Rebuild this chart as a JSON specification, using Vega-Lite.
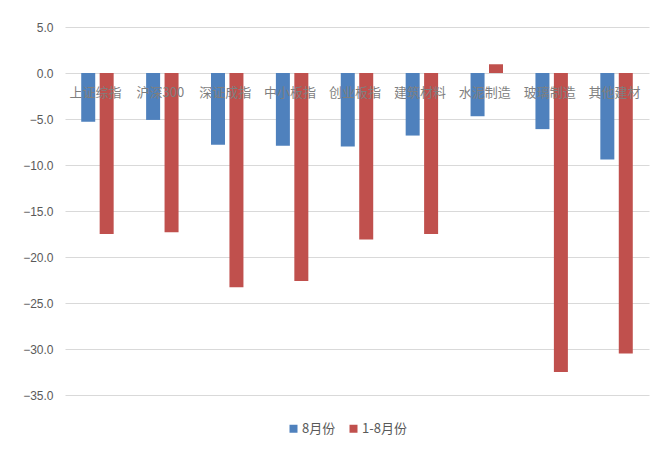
{
  "$schema": "https://vega.github.io/schema/vega-lite/v6.json",
  "width": 584,
  "height": 368,
  "autosize": "none",
  "padding": {"left": 65, "top": 27, "right": 11, "bottom": 60},
  "background": "white",
  "config": {
    "view": {"stroke": null},
    "font": "Noto Sans CJK SC"
  },
  "data": {
    "values": [
      {"cat": "上证综指", "series": "8月份", "value": -5.3},
      {"cat": "上证综指", "series": "1-8月份", "value": -17.5},
      {"cat": "沪深300", "series": "8月份", "value": -5.1},
      {"cat": "沪深300", "series": "1-8月份", "value": -17.3},
      {"cat": "深证成指", "series": "8月份", "value": -7.8},
      {"cat": "深证成指", "series": "1-8月份", "value": -23.3},
      {"cat": "中小板指", "series": "8月份", "value": -7.9},
      {"cat": "中小板指", "series": "1-8月份", "value": -22.6},
      {"cat": "创业板指", "series": "8月份", "value": -8.0},
      {"cat": "创业板指", "series": "1-8月份", "value": -18.1},
      {"cat": "建筑材料", "series": "8月份", "value": -6.8},
      {"cat": "建筑材料", "series": "1-8月份", "value": -17.5},
      {"cat": "水泥制造", "series": "8月份", "value": -4.7},
      {"cat": "水泥制造", "series": "1-8月份", "value": 0.95},
      {"cat": "玻璃制造", "series": "8月份", "value": -6.1},
      {"cat": "玻璃制造", "series": "1-8月份", "value": -32.5},
      {"cat": "其他建材", "series": "8月份", "value": -9.4},
      {"cat": "其他建材", "series": "1-8月份", "value": -30.5}
    ]
  },
  "encoding": {
    "x": {
      "field": "cat",
      "type": "nominal",
      "sort": null,
      "axis": null,
      "scale": {"paddingInner": 0.5, "paddingOuter": 0.25}
    }
  },
  "layer": [
    {
      "mark": {"type": "bar"},
      "encoding": {
        "xOffset": {
          "field": "series",
          "type": "nominal",
          "sort": ["8月份", "1-8月份"],
          "scale": {"paddingInner": 0.241, "paddingOuter": 0}
        },
        "y": {
          "field": "value",
          "type": "quantitative",
          "scale": {"domain": [-35, 5], "nice": false, "zero": false},
          "axis": {
            "title": null,
            "values": [5, 0, -5, -10, -15, -20, -25, -30, -35],
            "format": ".1f",
            "domain": false,
            "ticks": false,
            "grid": true,
            "gridColor": "#d9d9d9",
            "gridWidth": 1,
            "labelFontSize": 12,
            "labelColor": "#595959",
            "labelPadding": 12,
            "labelFont": "Liberation Sans"
          }
        },
        "color": {
          "field": "series",
          "type": "nominal",
          "sort": ["8月份", "1-8月份"],
          "scale": {"domain": ["8月份", "1-8月份"], "range": ["#4F81BD", "#C0504D"]},
          "legend": {
            "title": null,
            "orient": "none",
            "legendX": 222,
            "legendY": 395,
            "direction": "horizontal",
            "symbolType": "square",
            "symbolSize": 64,
            "symbolStrokeWidth": 0,
            "labelFontSize": 13,
            "labelColor": "#595959",
            "labelOffset": 2,
            "columnPadding": 11
          }
        }
      }
    },
    {
      "transform": [{"filter": "datum.series === '8月份'"}],
      "mark": {
        "type": "text",
        "dy": 20,
        "dx": -2,
        "fontSize": 13,
        "color": "#7f7f7f",
        "baseline": "middle",
        "align": "center"
      },
      "encoding": {
        "y": {"datum": 0},
        "text": {"field": "cat"}
      }
    }
  ]
}
